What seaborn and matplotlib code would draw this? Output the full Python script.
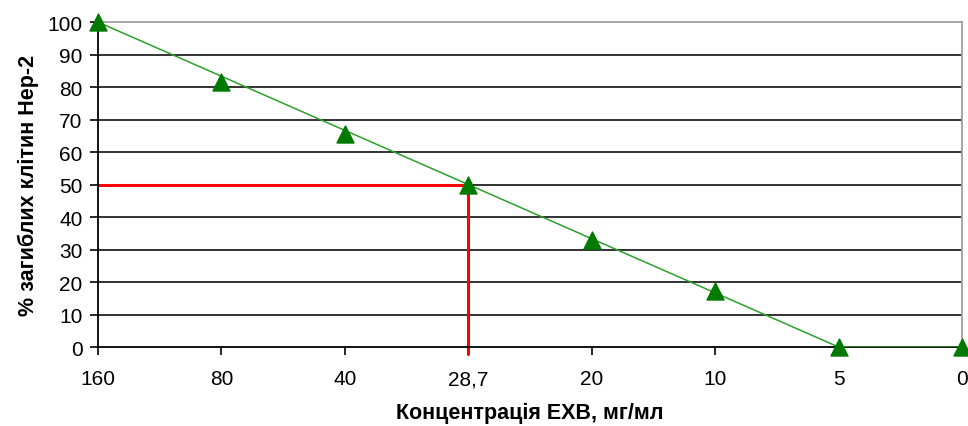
import pandas as pd
import matplotlib
matplotlib.use('Agg')
import matplotlib.pyplot as plt
import seaborn as sns

# concentration labels (categories, equally spaced) and % of dead Hep-2 cells
concentrations = ['160', '80', '40', '28,7', '20', '10', '5', '0']
dead_cells = [100, 81.5, 65.5, 50, 33, 17.3, 0, 0]

# straight trend line: from 160 down to 5, then flat to 0
trend_labels = ['160', '5', '0']
trend_values = [100, 0, 0]

# IC50 marker lines
ic50_label = '28,7'
ic50_value = 50

sns.set_style('white')
plt.rcParams['font.family'] = ['Liberation Sans', 'DejaVu Sans']
plt.rcParams['text.color'] = 'black'
plt.rcParams['axes.labelcolor'] = 'black'
plt.rcParams['xtick.color'] = 'black'
plt.rcParams['ytick.color'] = 'black'

pos = {c: i for i, c in enumerate(concentrations)}
df = pd.DataFrame({'x': [pos[c] for c in concentrations], 'y': dead_cells})
trend = pd.DataFrame({'x': [pos[c] for c in trend_labels], 'y': trend_values})

fig = plt.figure(figsize=(9.68, 4.27), dpi=100)
ax = fig.add_axes([0.1012, 0.185, 0.8926, 0.761])

# grid lines
for v in range(10, 100, 10):
    ax.axhline(v, color='#222222', lw=1.3, zorder=1)

# red IC50 lines
xi = pos[ic50_label]
ax.plot([0, xi], [ic50_value, ic50_value], color='#ff0000', lw=2.2, zorder=2)
ax.plot([xi, xi], [-2.2, ic50_value], color='#ff0000', lw=2.2, zorder=2, clip_on=False)

sns.lineplot(data=trend, x='x', y='y', color='#2ca02c', lw=1.1, ax=ax, zorder=3)
sns.scatterplot(data=df, x='x', y='y', marker='^', s=150, color='#007a00',
                edgecolor='#007a00', ax=ax, zorder=4, clip_on=False)

ax.set_xlim(0, len(concentrations) - 1)
ax.set_ylim(0, 100)
ax.set_xticks(range(len(concentrations)))
ax.set_xticklabels(concentrations)
ax.set_yticks(range(0, 101, 10))
ax.tick_params(axis='both', direction='out', length=6, width=1.2, colors='black',
               labelsize=15, bottom=True, left=True, pad=5)
ax.tick_params(axis='x', pad=10)

for s in ['left', 'bottom']:
    ax.spines[s].set_color('black')
    ax.spines[s].set_linewidth(1.3)
for s in ['top', 'right']:
    ax.spines[s].set_color('#a0a0a0')
    ax.spines[s].set_linewidth(1.3)

ax.set_xlabel('Концентрація ЕХВ, мг/мл', fontsize=15.5, fontweight='bold', labelpad=10)
ax.set_ylabel('% загиблих клітин Нер-2', fontsize=15.5, fontweight='bold', labelpad=6)

fig.savefig('out.png', dpi=100)
